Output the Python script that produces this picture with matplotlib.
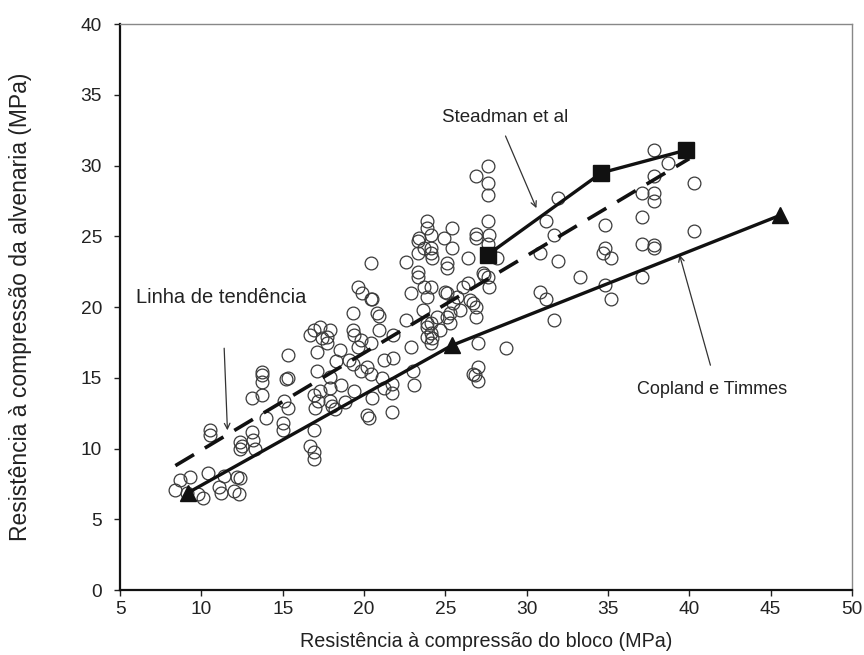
import matplotlib
matplotlib.use("Agg")
import matplotlib.pyplot as plt

FONT = ['Liberation Sans', 'DejaVu Sans']
plt.rcParams['font.family'] = FONT

# Scatter data (block strength, masonry strength) in MPa
scatter_x = [8.4, 8.7, 9.3, 9.1, 10.1, 9.8, 11.1, 11.2, 10.4, 12.2, 12.4, 10.5, 10.5, 12.4, 12.5, 12.4,
             13.3, 13.1, 13.2, 14.0, 15.0, 15.0, 13.1, 13.7, 13.7, 13.7, 13.7, 15.3, 15.2, 15.1, 15.3,
             15.3, 12.0, 12.3, 11.4,
             16.9, 17.2, 17.0, 17.3, 16.9, 16.7, 16.9, 16.9, 17.1, 17.3, 16.7, 17.4, 17.7, 17.1, 16.9,
             17.9, 17.7, 17.9, 17.9, 17.9, 18.2, 18.0, 18.3, 18.5, 18.6, 18.8, 19.3, 19.4, 19.8, 19.6,
             19.1, 19.3, 19.8, 19.4, 19.3, 19.6, 19.9,
             20.4, 20.4, 20.5, 20.9, 20.8, 20.9, 20.4, 20.2, 20.4, 20.5, 20.2, 20.3, 21.2, 21.8, 21.8,
             21.2, 21.7, 21.7, 21.1, 21.7, 22.6, 22.6, 22.9, 22.9, 23.0, 23.1, 23.3, 23.3, 23.3, 23.4,
             23.3, 23.6, 23.7, 23.9, 23.9, 23.9, 23.9, 24.1, 24.1, 24.2, 23.9, 23.9, 24.1, 24.1, 23.7,
             24.1, 24.2, 24.1, 24.1,
             24.5, 24.7, 24.9, 25.4, 25.4, 25.1, 25.1, 25.0, 25.1, 25.5, 25.9, 25.3, 25.3, 25.1, 25.7,
             26.4, 26.4, 26.1, 26.5, 26.7, 26.9, 26.9, 26.9, 26.9, 26.7, 26.8, 27.0, 27.0, 27.0, 28.7,
             27.6, 27.6, 27.6, 27.6, 27.7, 27.6, 27.3, 27.4, 27.6, 27.7, 28.2, 26.9,
             30.8, 31.9, 31.2, 31.7, 31.9, 30.8, 31.2, 31.7, 33.3, 34.8, 34.8, 34.7, 35.2, 34.8, 35.2,
             37.8, 38.7, 37.8, 37.1, 37.8, 37.8, 40.3, 37.1, 40.3, 37.1, 37.8, 37.8, 37.1]
scatter_y = [7.1, 7.8, 8.0, 6.9, 6.5, 6.8, 7.3, 6.9, 8.3, 8.0, 7.9, 11.3, 11.0, 10.5, 10.2, 10.0,
             10.0, 11.2, 10.6, 12.2, 11.8, 11.3, 13.6, 13.8, 15.4, 15.2, 14.7, 15.0, 14.9, 13.4, 12.9,
             16.6, 7.0, 6.8, 8.1,
             13.8, 13.4, 12.9, 14.1, 11.3, 10.2, 9.8, 9.3, 15.5, 18.6, 18.0, 17.8, 17.5, 16.8, 18.4,
             18.4, 17.9, 15.1, 14.3, 13.4, 12.8, 13.0, 16.2, 17.0, 14.5, 13.3, 18.4, 18.0, 17.7, 17.2,
             16.3, 16.0, 15.5, 14.1, 19.6, 21.4, 21.0,
             23.1, 20.6, 20.6, 19.4, 19.6, 18.4, 17.5, 15.8, 15.3, 13.6, 12.4, 12.2, 16.3, 16.4, 18.0,
             14.3, 14.6, 13.9, 15.0, 12.6, 23.2, 19.1, 17.2, 21.0, 15.5, 14.5, 23.8, 22.5, 22.1, 24.9,
             24.7, 19.8, 21.4, 20.7, 18.9, 18.6, 17.9, 17.5, 18.2, 17.8, 26.1, 25.6, 25.1, 24.2, 24.2,
             23.8, 23.5, 21.4, 18.9,
             19.3, 18.4, 24.9, 25.6, 24.2, 23.1, 22.8, 21.1, 21.0, 20.3, 19.8, 18.9, 19.6, 19.3, 20.7,
             23.5, 21.7, 21.4, 20.5, 20.3, 20.0, 19.3, 29.3, 25.2, 15.3, 15.2, 15.8, 14.8, 17.5, 17.1,
             30.0, 28.8, 27.9, 26.1, 25.1, 24.5, 22.4, 22.3, 22.1, 21.4, 23.5, 24.9,
             23.8, 23.3, 26.1, 25.1, 27.7, 21.1, 20.6, 19.1, 22.1, 25.8, 24.2, 23.8, 23.5, 21.6, 20.6,
             31.1, 30.2, 29.3, 28.1, 28.1, 27.5, 28.8, 26.4, 25.4, 24.5, 24.4, 24.2, 22.1]

# Model curves
copland_x = [9.2, 25.4, 45.6]
copland_y = [6.9, 17.3, 26.5]
steadman_x = [27.6, 34.6, 39.8]
steadman_y = [23.7, 29.5, 31.1]
trend_x = [8.4, 40.0]
trend_y = [8.8, 30.5]

x_ticks = [5, 10, 15, 20, 25, 30, 35, 40, 45, 50]
y_ticks = [0, 5, 10, 15, 20, 25, 30, 35, 40]

fig = plt.figure(figsize=(8.64, 6.55), dpi=100)
ax = fig.add_axes([0.139, 0.099, 0.847, 0.864])

ax.plot(scatter_x, scatter_y, linestyle='none', marker='o', markersize=9.2,
        markerfacecolor='none', markeredgecolor='#3a3a3a', markeredgewidth=0.9, zorder=2)

ax.plot(trend_x, trend_y, color='#111111', linewidth=2.6, linestyle=(0, (6, 3.5)), zorder=3)
ax.plot(copland_x, copland_y, color='#111111', linewidth=2.4, marker='^', markersize=12,
        markerfacecolor='#111111', markeredgecolor='#111111', zorder=4)
ax.plot(steadman_x, steadman_y, color='#111111', linewidth=2.4, marker='s', markersize=11.5,
        markerfacecolor='#111111', markeredgecolor='#111111', zorder=4)

ax.set_xlim(5, 50)
ax.set_ylim(0, 40)
ax.set_xticks(x_ticks)
ax.set_yticks(y_ticks)
ax.tick_params(axis='both', direction='out', length=4, width=1, labelsize=13.8,
               colors='#222222')
ax.tick_params(axis='x', pad=4)
ax.tick_params(axis='y', pad=9)
for side in ['top', 'right']:
    ax.spines[side].set_color('#888888')
    ax.spines[side].set_linewidth(1.0)
for side in ['left', 'bottom']:
    ax.spines[side].set_color('#111111')
    ax.spines[side].set_linewidth(1.6)

ax.set_xlabel('Resistência à compressão do bloco (MPa)', fontsize=14.2, color='#222222',
              labelpad=10)
ax.set_ylabel('Resistência à compressão da alvenaria (MPa)', fontsize=16.5, color='#222222',
              labelpad=35)

arrow = dict(arrowstyle='->', color='#333333', lw=0.9, shrinkA=0, shrinkB=0)
ax.text(28.7, 33.4, 'Steadman et al', fontsize=13.5, ha='center', va='center',
        color='#222222')
ax.annotate('', xy=(30.6, 27.0), xytext=(28.7, 32.1), arrowprops=arrow)
ax.text(6.0, 20.7, 'Linha de tendência', fontsize=14.5, ha='left', va='center',
        color='#222222')
ax.annotate('', xy=(11.6, 11.3), xytext=(11.4, 17.1), arrowprops=arrow)
ax.text(36.8, 14.2, 'Copland e Timmes', fontsize=13, ha='left', va='center',
        color='#222222')
ax.annotate('', xy=(39.4, 23.7), xytext=(41.3, 15.9), arrowprops=arrow)

fig.savefig('out.png', dpi=100)
